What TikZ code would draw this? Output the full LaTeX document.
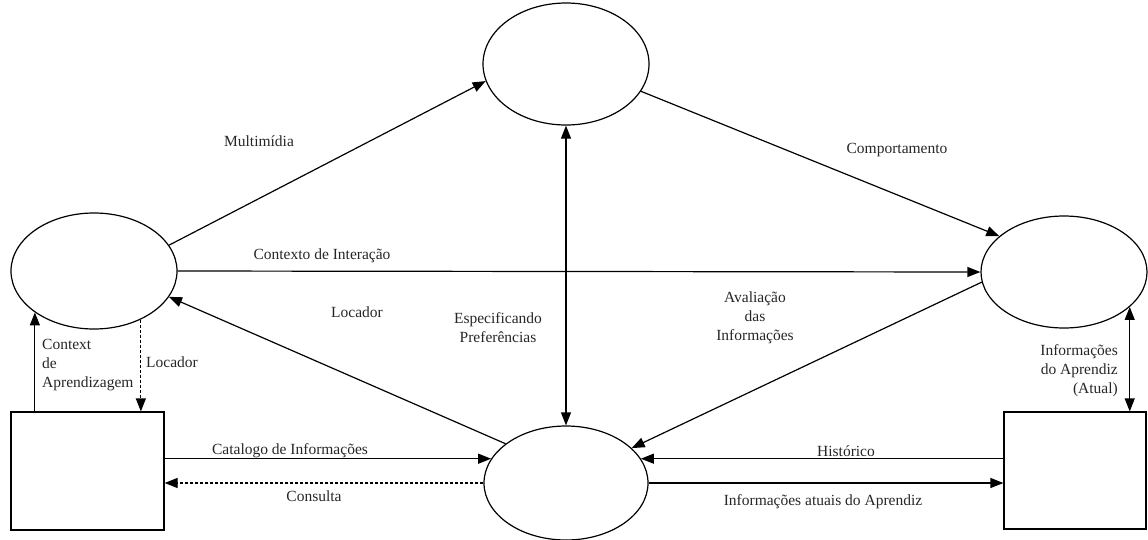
\documentclass[tikz,border=0pt]{standalone}
\usepackage{fontspec}
\setmainfont{Liberation Serif}
\usetikzlibrary{arrows.meta,shapes.geometric}
\begin{document}
\begin{tikzpicture}[x=1pt,y=-1pt,
  every node/.style={font=\fontsize{15.5}{19}\selectfont},
  proc/.style={draw,line width=1.2pt,ellipse,minimum width=166pt,minimum height=116pt,inner sep=0pt},
  store/.style={draw,line width=1.2pt,rectangle,inner sep=0pt},
  lbl/.style={inner sep=0pt,text=black!85},
  conn/.style={line width=1.2pt},
  arr/.style={conn,-{Triangle[length=13pt,width=10pt]}},
  darr/.style={conn,{Triangle[length=13pt,width=10pt]}-{Triangle[length=13pt,width=10pt]}},
  dsh/.style={dash pattern=on 3pt off 2pt}]
\useasboundingbox (0,0) rectangle (1148,539);
% nodes
\node[proc] (L) at (94,271) {};
\node[proc,minimum height=122pt] (T) at (566,64) {};
\node[proc,minimum height=112pt] (R) at (1064,272) {};
\node[proc,minimum width=164pt,minimum height=114pt] (B) at (566,483) {};
\node[store,minimum width=153pt,minimum height=118pt] (LB) at (87.5,471) {};
\node[store,minimum width=142pt,minimum height=117pt] (RB) at (1075,470.5) {};
% connectors
\draw[arr] (L.19) -- (T.-168);
\draw[arr] (T.-20) -- (R.151);
\draw[arr] (L.east) -- (R.west);
\draw[arr] (B.147) -- (L.-19);
\draw[darr] (T.south) -- (B.north);
\draw[arr] (R.-173) -- (B.28);
\draw[arr] (L.-145 |- LB.north) -- (L.-145);
\draw[arr,dsh] (L.-46) -- (L.-46 |- LB.north);
\draw[arr] (B.162 -| LB.east) -- (B.162);
\draw[arr,dsh] (B.west) -- (B.west -| LB.east);
\draw[arr] (B.18 -| RB.west) -- (B.18);
\draw[arr] (B.east) -- (B.east -| RB.west);
\draw[darr] (R.-28) -- (R.-28 |- RB.north);
% labels
\node[lbl] (lm) at (259,141) {Multimídia};
\node[lbl] (lc) at (897,150) {Comportamento};
\node[lbl] (li) at (322,256) {Contexto de Interação};
\node[lbl] (ll) at (357,312) {Locador};
\node[lbl,align=center] (le) at (498,328) {Especificando\\Preferências};
\node[lbl,align=center] (la) at (755,318) {Avaliação\\das\\Informações};
\node[lbl,align=left,anchor=west] (lca) at (42,365) {Context\\de\\Aprendizagem};
\node[lbl,anchor=west] (ld) at (146,362) {Locador};
\node[lbl] (lcat) at (290,451) {Catalogo de Informações};
\node[lbl] (lcon) at (314,496) {Consulta};
\node[lbl] (lh) at (846,451) {Histórico};
\node[lbl] (lia) at (823,502) {Informações atuais do Aprendiz};
\node[lbl,align=right,anchor=east] (lid) at (1118,371) {Informações\\do Aprendiz\\(Atual)};
\end{tikzpicture}
\end{document}
